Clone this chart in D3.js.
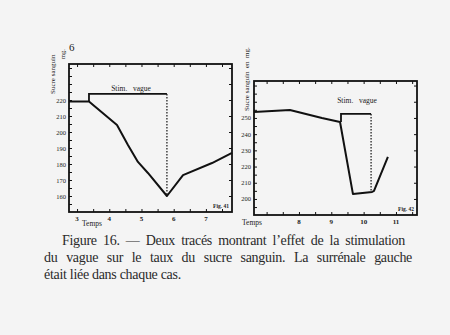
<!DOCTYPE html>
<html>
<head>
<meta charset="utf-8">
<script src="https://cdn.jsdelivr.net/npm/d3@7"></script>
<style>
  html, body { margin: 0; padding: 0; background: #f4f4f4; }
  svg { display: block; }
  .cap { font-family: "Liberation Serif", "Times New Roman", serif; font-size: 14px; letter-spacing: -0.3px; fill: #2a2a2a; }
  .sm { font-family: "Liberation Serif", "Times New Roman", serif; fill: #222; }
</style>
</head>
<body>
<svg id="chart" width="450" height="335"></svg>
<script>
// Left tracing (hours, mg of sugar)
const leftTime  = [2.75, 3.37, 4.24, 4.58, 4.89, 5.2, 5.79, 6.29, 7.19, 7.81];
const leftSugar = [219, 219, 204.4, 191.9, 181.3, 174.4, 160, 173, 180.6, 186.9];
const leftTicksX = [3, 4, 5, 6, 7];
const leftTicksY = [220, 210, 200, 190, 180, 170, 160];
const leftStim = [3.37, 5.79];
const leftStimTop = 223.8;

// Right tracing
const rightTime  = [6.61, 7.72, 8.71, 9.27, 9.67, 10.26, 10.32, 10.75];
const rightSugar = [253.7, 254.9, 250, 247.5, 203, 204.3, 205, 226];
const rightTicksX = [8, 9, 10, 11];
const rightTicksY = [250, 240, 230, 220, 210, 200];
const rightStim = [9.3, 10.23];
const rightStimTop = 252.5;

const captionLines = [
  "Figure 16. \u2014 Deux trac\u00e9s montrant l\u2019effet de la stimulation",
  "du vague sur le taux du sucre sanguin. La surr\u00e9nale gauche",
  "\u00e9tait li\u00e9e dans chaque cas."
];

const svg = d3.select("#chart");

function panel(cfg) {
  const x = d3.scaleLinear().domain(cfg.xDomain).range(cfg.xRange);
  const y = d3.scaleLinear().domain(cfg.yDomain).range(cfg.yRange);
  const g = svg.append("g");
  const [x0, x1] = cfg.xRange, [y0, y1] = cfg.yRange; // y0 bottom, y1 top

  // frame
  g.append("rect").attr("x", x0).attr("y", y1).attr("width", x1 - x0).attr("height", y0 - y1)
    .attr("fill", "none").attr("stroke", "#111").attr("stroke-width", 1.8);

  // y axis with inward ticks
  const yAxis = d3.axisRight(y).tickValues(d3.range(cfg.yDomain[0] + 5 - cfg.yDomain[0] % 5, cfg.yDomain[1], 5))
    .tickSize(3).tickFormat("");
  g.append("g").attr("transform", `translate(${x0},0)`).call(yAxis)
    .call(s => s.select(".domain").remove())
    .selectAll("line").attr("stroke", "#111");
  // right side small ticks
  g.append("g").attr("transform", `translate(${x1},0)`)
    .call(d3.axisLeft(y).tickValues(d3.range(cfg.yDomain[0] + 10 - cfg.yDomain[0] % 10, cfg.yDomain[1], 10)).tickSize(3).tickFormat(""))
    .call(s => s.select(".domain").remove())
    .selectAll("line").attr("stroke", "#111");
  // tick labels on y
  g.selectAll(".yl").data(cfg.yTicks).join("text")
    .attr("class", "sm").attr("x", x0 - 3).attr("y", d => y(d) + 2.5)
    .attr("text-anchor", "end").attr("font-size", 6.5).text(d => d);

  // x axis with inward ticks
  g.append("g").attr("transform", `translate(0,${y0})`)
    .call(d3.axisTop(x).tickValues(d3.range(Math.ceil(cfg.xDomain[0] * 2) / 2, cfg.xDomain[1], 0.5)).tickSize(3).tickFormat(""))
    .call(s => s.select(".domain").remove())
    .selectAll("line").attr("stroke", "#111");
  g.append("g").attr("transform", `translate(0,${y1})`)
    .call(d3.axisBottom(x).tickValues(d3.range(Math.ceil(cfg.xDomain[0] * 2) / 2, cfg.xDomain[1], 0.5)).tickSize(3).tickFormat(""))
    .call(s => s.select(".domain").remove())
    .selectAll("line").attr("stroke", "#111");
  g.selectAll(".xl").data(cfg.xTicks).join("text")
    .attr("class", "sm").attr("x", d => x(d)).attr("y", y0 + 9)
    .attr("text-anchor", "middle").attr("font-size", 7).attr("font-weight", "bold").text(d => d);

  // sugar tracing
  const line = d3.line().x(d => x(d[0])).y(d => y(d[1]));
  g.append("path").datum(d3.zip(cfg.time, cfg.sugar)).attr("d", line)
    .attr("fill", "none").attr("stroke", "#111").attr("stroke-width", 2).attr("stroke-linejoin", "round");

  // stimulation bracket
  const startY = y(d3.zip(cfg.time, cfg.sugar).reduce((a, b) =>
    Math.abs(b[0] - cfg.stim[0]) < Math.abs(a[0] - cfg.stim[0]) ? b : a)[1]);
  g.append("path")
    .attr("d", `M${x(cfg.stim[0])},${startY}V${y(cfg.stimTop)}H${x(cfg.stim[1])}`)
    .attr("fill", "none").attr("stroke", "#111").attr("stroke-width", 1.8);
  const endIdx = d3.minIndex(cfg.time, t => Math.abs(t - cfg.stim[1]));
  g.append("line").attr("x1", x(cfg.stim[1])).attr("x2", x(cfg.stim[1]))
    .attr("y1", y(cfg.stimTop)).attr("y2", y(cfg.sugar[endIdx]))
    .attr("stroke", "#111").attr("stroke-width", 1.2).attr("stroke-dasharray", "1.5,1.5");
  g.append("text").attr("class", "sm").attr("x", cfg.stimLabel[0]).attr("y", cfg.stimLabel[1])
    .attr("text-anchor", "middle").attr("font-size", 7.5).attr("xml:space", "preserve").text("Stim.   vague");

  // plate number
  g.append("text").attr("class", "sm").attr("x", x1 - 3).attr("y", y0 - 4)
    .attr("text-anchor", "end").attr("font-size", 5.5).attr("font-weight", "bold").text(cfg.plate);

  // axis titles
  g.append("text").attr("class", "sm").attr("x", cfg.tempsPos[0]).attr("y", cfg.tempsPos[1])
    .attr("font-size", 7.5).text("Temps");
  g.append("text").attr("class", "sm")
    .attr("transform", `translate(${cfg.yTitlePos[0]},${cfg.yTitlePos[1]}) rotate(-90)`)
    .attr("font-size", 7).attr("xml:space", "preserve").text(cfg.yTitle);
  return g;
}

panel({
  xDomain: [2.75, 7.81], xRange: [69, 232],
  yDomain: [150, 242.5], yRange: [212, 64],
  time: leftTime, sugar: leftSugar, xTicks: leftTicksX, yTicks: leftTicksY,
  stim: leftStim, stimTop: leftStimTop, stimLabel: [131, 91],
  plate: "Fig. 41", tempsPos: [82, 226], yTitlePos: [55, 94],
  yTitle: "Sucre sanguin"
});
svg.append("text").attr("class", "sm").attr("transform", "translate(65,59) rotate(-90)")
  .attr("font-size", 6.5).text("mg.");
svg.append("text").attr("class", "sm").attr("x", 69).attr("y", 51)
  .attr("font-size", 11).text("6");

panel({
  xDomain: [6.61, 11.65], xRange: [254, 417],
  yDomain: [190.1, 272.8], yRange: [215, 81],
  time: rightTime, sugar: rightSugar, xTicks: rightTicksX, yTicks: rightTicksY,
  stim: rightStim, stimTop: rightStimTop, stimLabel: [357, 103],
  plate: "Fig. 42", tempsPos: [242, 225], yTitlePos: [249, 111],
  yTitle: "Sucre sanguin  en  mg."
});

// caption: first line indented, first two lines justified through word spacing
const capStart = [62, 44, 44];
const capEnd = [405, 412, null];
const cap = svg.append("g");
cap.selectAll("text").data(captionLines).join("text")
  .attr("class", "cap")
  .attr("x", (d, i) => capStart[i])
  .attr("y", (d, i) => 245 + i * 17)
  .text(d => d)
  .each(function (d, i) {
    if (capEnd[i] == null) return;
    const natural = this.getComputedTextLength();
    const gaps = d.split(" ").length - 1;
    const extra = (capEnd[i] - capStart[i] - natural) / gaps;
    d3.select(this).style("word-spacing", extra + "px");
  });
</script>
</body>
</html>
